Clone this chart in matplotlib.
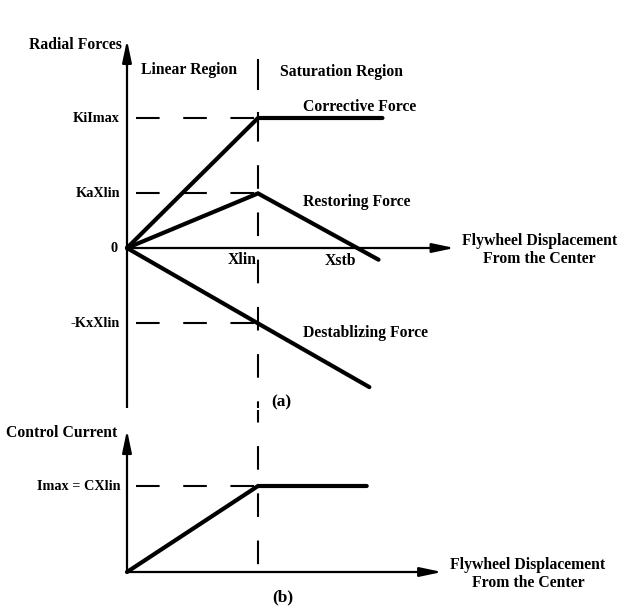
import matplotlib.pyplot as plt

plt.rcParams['font.family'] = ['Liberation Serif', 'DejaVu Serif']
plt.rcParams['lines.scale_dashes'] = False

# displacement in units of Xlin, forces in units of Ki*Imax
x_lin = 1.0
x_stb = 1.76

corrective_x = [0.0, 1.0, 1.95]
corrective_y = [0.0, 1.0, 1.0]
restoring_x = [0.0, 1.0, 1.92]
restoring_y = [0.0, 0.42, -0.09]
destab_x = [0.0, 1.0, 1.85]
destab_y = [0.0, -0.58, -1.07]

force_levels = [1.0, 0.42, -0.58]
force_labels = ['KiImax', 'KaXlin', '-KxXlin']

# control current in units of Imax
current_x = [0.0, 1.0, 1.83]
current_y = [0.0, 1.0, 1.0]
current_levels = [1.0]
current_labels = ['Imax = CXlin']

W, H = 624, 613
fig = plt.figure(figsize=(W / 100, H / 100), dpi=100)

# both panels share the same x scale (131 px per Xlin, origin at px 127)
px_per_x = 131.0
x0 = 127.0
xlim = (-x0 / px_per_x, (W - x0) / px_per_x)

ax_a = fig.add_axes([0, (H - 410) / H, 1, 410 / H])
ax_a.set_xlim(*xlim)
ax_a.set_ylim(-(410 - 248) / 130.0, 248 / 130.0)

ax_b = fig.add_axes([0, 0, 1, (H - 410) / H])
ax_b.set_xlim(*xlim)
ax_b.set_ylim(-(H - 572) / 86.0, (572 - 410) / 86.0)

for ax in (ax_a, ax_b):
    ax.axis('off')

fs = 11.3
txt = dict(fontsize=fs, fontweight='bold', color='black')
lvl_txt = dict(fontsize=10.3, fontweight='bold', color='black')
dash = (0, (17, 17))
arrow = dict(arrowstyle='-|>,head_length=0.95,head_width=0.2', color='black',
             lw=1.6, mutation_scale=14, shrinkA=0, shrinkB=0)

# ---- (a) radial forces ----
ax_a.plot([0, 0], [-1.23, 1.5], color='black', lw=1.6, solid_capstyle='butt')
ax_a.annotate('', xy=(0, 1.6), xytext=(0, 1.4), arrowprops=arrow)
ax_a.annotate('', xy=(2.5, 0), xytext=(0, 0), arrowprops=arrow)

ax_a.plot([x_lin, x_lin], [1.45, 1.22], color='black', lw=1.5)
ax_a.plot([x_lin, x_lin], [1.0, -1.23], color='black', lw=1.5, linestyle=(0, (17, 17)))
ax_a.plot([x_lin, x_lin], [1.04, 0.96], color='black', lw=1.5)

for lvl, lab in zip(force_levels, force_labels):
    ax_a.plot([0.07, x_lin], [lvl, lvl], color='black', lw=1.5, linestyle=dash)
    ax_a.text(-0.053, lvl, lab, ha='right', va='center', **lvl_txt)
ax_a.text(-0.07, 0, '0', ha='right', va='center', **lvl_txt)

for xs, ys in ((corrective_x, corrective_y), (restoring_x, restoring_y), (destab_x, destab_y)):
    ax_a.plot(xs, ys, color='black', lw=3.0, solid_capstyle='round', solid_joinstyle='miter')

ax_a.text(-0.04, 1.56, 'Radial Forces', ha='right', va='center', **txt)
ax_a.text(0.47, 1.37, 'Linear Region', ha='center', va='center', **txt)
ax_a.text(1.64, 1.35, 'Saturation Region', ha='center', va='center', **txt)
ax_a.text(1.34, 1.085, 'Corrective Force', ha='left', va='center', **txt)
ax_a.text(1.34, 0.354, 'Restoring Force', ha='left', va='center', **txt)
ax_a.text(1.34, -0.654, 'Destablizing Force', ha='left', va='center', **txt)
ax_a.text(0.88, -0.09, 'Xlin', ha='center', va='center', **txt)
ax_a.text(x_stb - 0.13, -0.1, 'Xstb', ha='center', va='center', **txt)
ax_a.text(3.15, -0.015, 'Flywheel Displacement\nFrom the Center', ha='center',
          va='center', linespacing=1.15, **txt)
ax_a.text(1.18, -1.19, '(a)', ha='center', va='center', fontsize=12.5, fontweight='bold')

# ---- (b) control current ----
ax_b.annotate('', xy=(0, 1.65), xytext=(0, 0), arrowprops=arrow)
ax_b.annotate('', xy=(2.405, 0), xytext=(0, 0), arrowprops=arrow)
ax_b.plot([x_lin, x_lin], [1.88, 0], color='black', lw=1.5, linestyle=(8, (17, 17)))

for lvl, lab in zip(current_levels, current_labels):
    ax_b.plot([0.07, x_lin], [lvl, lvl], color='black', lw=1.5, linestyle=dash)
    ax_b.text(-0.053, lvl, lab, ha='right', va='center', **lvl_txt)

ax_b.plot(current_x, current_y, color='black', lw=3.0, solid_capstyle='round',
          solid_joinstyle='miter')

ax_b.text(-0.07, 1.616, 'Control Current', ha='right', va='center', **txt)
ax_b.text(3.06, -0.02, 'Flywheel Displacement\nFrom the Center', ha='center',
          va='center', linespacing=1.15, **txt)
ax_b.text(1.19, -0.29, '(b)', ha='center', va='center', fontsize=12.5, fontweight='bold')

fig.savefig('out.png', dpi=100)
